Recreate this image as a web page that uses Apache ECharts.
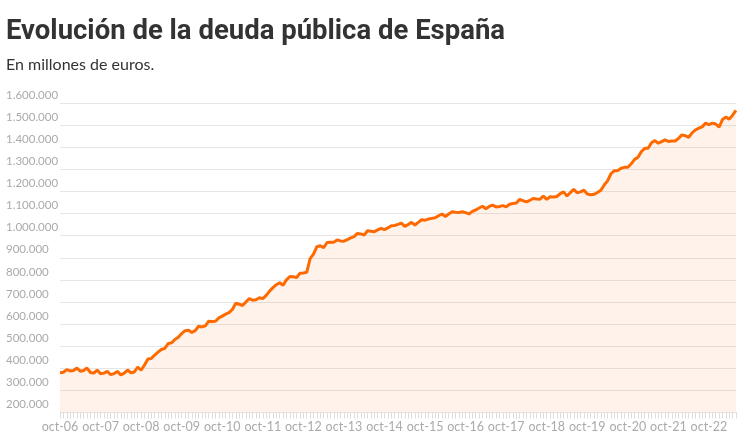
<!DOCTYPE html>
<html>
<head>
<meta charset="utf-8">
<script src="https://cdn.jsdelivr.net/npm/echarts@6/dist/echarts.min.js"></script>
<style>
html,body{margin:0;padding:0;background:#fff;}
#chart{width:740px;height:442px;}
</style>
</head>
<body>
<div id="chart"></div>
<script>
// Monthly series, oct-06 .. jun-23 (millones de euros)
var monthNames = ['ene','feb','mar','abr','may','jun','jul','ago','sep','oct','nov','dic'];
var startMonth = 9;   // oct
var startYear = 2006;
var debtThousands = [
  380,382,394,388,390,401,387,390,401,381,378,392,
  375,378,386,371,376,386,370,378,392,380,383,406,
  391,415,442,444,460,473,485,490,512,515,530,540,
  557,570,572,562,570,590,587,592,613,612,613,628,
  636,645,652,666,694,690,684,700,715,708,710,719,
  715,730,749,765,778,787,776,800,815,814,810,830,
  831,834,896,916,950,954,945,969,970,970,981,976,
  975,982,990,996,1010,1008,1003,1022,1020,1018,1026,1033,
  1027,1035,1045,1046,1051,1057,1042,1050,1060,1048,1060,1072,
  1070,1075,1078,1081,1090,1098,1087,1098,1108,1106,1105,1108,
  1104,1098,1110,1116,1125,1133,1122,1132,1138,1130,1132,1136,
  1130,1142,1145,1148,1164,1158,1153,1160,1168,1166,1165,1179,
  1164,1176,1175,1177,1190,1198,1179,1195,1209,1194,1198,1206,
  1188,1185,1187,1195,1205,1229,1248,1280,1294,1294,1305,1309,
  1309,1325,1345,1355,1380,1395,1395,1420,1430,1418,1425,1433,
  1426,1428,1428,1440,1456,1452,1445,1465,1478,1486,1492,1509,
  1502,1509,1505,1491,1525,1536,1527,1545,1567
];
var yTicks = [200000,300000,400000,500000,600000,700000,800000,900000,1000000,1100000,1200000,1300000,1400000,1500000,1600000];

var categories = [];
var values = [];
for (var i = 0; i < debtThousands.length; i++) {
  var m = (startMonth + i) % 12;
  var y = startYear + Math.floor((startMonth + i) / 12);
  categories.push(monthNames[m] + '-' + String(y).slice(2));
  values.push(debtThousands[i] * 1000);
}

function fmt(v){ return String(v).replace(/\B(?=(\d{3})+(?!\d))/g, '.'); }

var chart = echarts.init(document.getElementById('chart'), null, {renderer:'canvas'});
chart.setOption({
  animation:false,
  backgroundColor:'#ffffff',
  title:[{
    text:'Evolución de la deuda pública de España',
    left:6, top:18, padding:0,
    textStyle:{fontFamily:'Roboto', fontWeight:'bold', fontSize:27.5, color:'#333333'}
  },{
    text:'En millones de euros.',
    left:6, top:57, padding:0,
    textStyle:{fontFamily:'Lato', fontWeight:'normal', fontSize:16, color:'#333333'}
  }],
  grid:{left:60, right:4, top:103, bottom:29.5, containLabel:false},
  xAxis:{
    type:'category',
    data:categories,
    boundaryGap:false,
    axisLine:{show:true, lineStyle:{color:'#e8e8e8'}},
    axisTick:{show:true, interval:0, length:6, lineStyle:{color:'#dddddd'}},
    axisLabel:{interval:11, color:'#aaaaaa', fontFamily:'Lato', fontSize:12.5, margin:8},
    splitLine:{show:false}
  },
  yAxis:{
    type:'value',
    min:yTicks[0], max:yTicks[yTicks.length-1], interval:100000,
    axisLine:{show:false}, axisTick:{show:false},
    axisLabel:{
      formatter:function(v){ return fmt(v); },
      align:'left', verticalAlign:'bottom', margin:54,
      padding:[0,0,2,0],
      color:'#aaaaaa', fontFamily:'Lato', fontSize:11.5
    },
    splitLine:{show:true, lineStyle:{color:'#e6e6e6', width:1}}
  },
  series:[{
    type:'line',
    data:values,
    symbol:'none',
    lineStyle:{color:'#ff6a00', width:3},
    itemStyle:{color:'#ff6a00'},
    areaStyle:{color:'rgba(255,110,20,0.12)'},
    z:3
  }]
});
</script>
</body>
</html>
